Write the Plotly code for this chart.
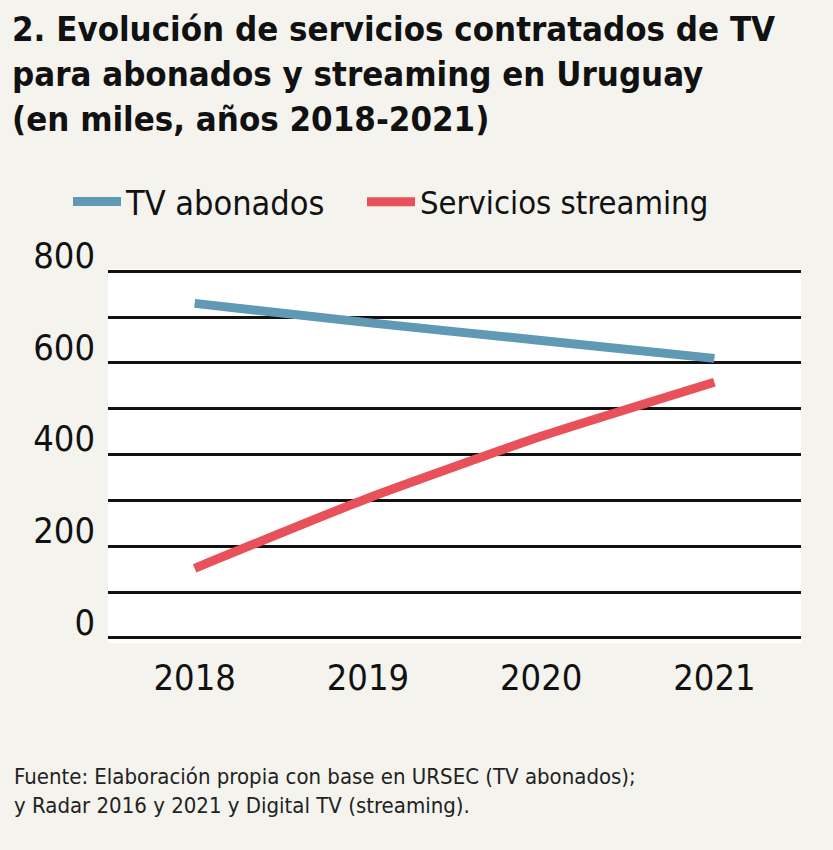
import plotly.graph_objects as go

years = ["2018", "2019", "2020", "2021"]
tv_abonados = [730, 688, 649, 610]
streaming = [152, 305, 440, 558]
y_ticks = [0, 100, 200, 300, 400, 500, 600, 700, 800]
y_ticktext = ["0", "", "200", "", "400", "", "600", "", "800"]

FONT = "DejaVu Sans Condensed, Liberation Sans Narrow, sans-serif"
BG = "#f4f3ee"

fig = go.Figure()
fig.add_trace(go.Scatter(x=years, y=tv_abonados, name="TV abonados", mode="lines",
                         legend="legend",
                         line=dict(color="#5f99b4", width=9, shape="spline", smoothing=0.5)))
fig.add_trace(go.Scatter(x=years, y=streaming, name="Servicios streaming", mode="lines",
                         legend="legend2",
                         line=dict(color="#e8505a", width=9, shape="spline", smoothing=0.5)))

leg_common = dict(orientation="h", xref="container", yref="container",
                  y=1 - 202 / 850, yanchor="middle", xanchor="left",
                  bgcolor="rgba(0,0,0,0)", itemwidth=48)

fig.update_layout(
    width=833, height=850,
    paper_bgcolor=BG, plot_bgcolor="white",
    margin=dict(l=108, r=32, t=269, b=207, autoexpand=False),
    font=dict(family=FONT, color="#111111"),
    showlegend=True,
    legend=dict(**leg_common, x=68 / 833, font=dict(size=34, family=FONT)),
    legend2=dict(**leg_common, x=362 / 833, font=dict(size=32.5, family=FONT)),
    title=dict(
        text="2. Evolución de servicios contratados de TV<br>para abonados y streaming en Uruguay<br>(en miles, años 2018-2021)",
        x=12 / 833, xanchor="left", xref="container", yref="container",
        y=1 - 41 / 850, yanchor="top",
        font=dict(size=34.5, family=FONT, weight="bold", color="#111111"),
    ),
    xaxis=dict(type="category", range=[-0.5, 3.5], showgrid=False, zeroline=False,
               showline=False, ticks="", tickfont=dict(size=36), ticklabelstandoff=10),
    yaxis=dict(range=[-11, 805], tickvals=y_ticks, ticktext=y_ticktext,
               showgrid=True, gridcolor="#111111", gridwidth=2.5, zeroline=False,
               showline=False, ticks="", tickfont=dict(size=36),
               ticklabelshift=-16, ticklabelstandoff=12),
    annotations=[dict(
        text="Fuente: Elaboración propia con base en URSEC (TV abonados);<br>y Radar 2016 y 2021 y Digital TV (streaming).",
        xref="paper", yref="paper", x=-96 / 693, y=-(762 - 643) / 374,
        xanchor="left", yanchor="top", align="left", showarrow=False,
        font=dict(size=22, family=FONT, color="#222222"),
    )],
)

fig.write_html("out.html", config={"displayModeBar": False},
               post_script="document.body.style.margin='0';document.body.style.background='#f4f3ee';")
